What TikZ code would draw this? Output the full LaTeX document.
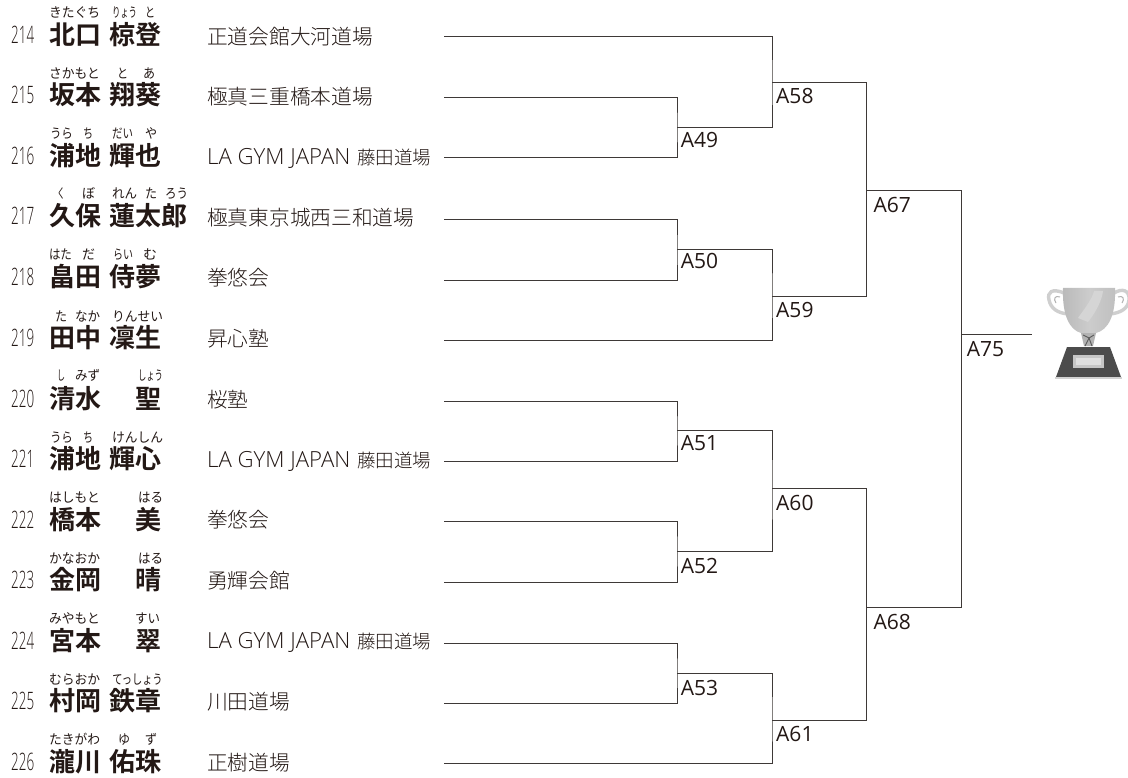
\documentclass[tikz,border=0pt]{standalone}
\usepackage{fontspec}
\newfontfamily\kanjif{Noto Sans CJK JP}[BoldFont={Noto Sans CJK JP Bold}]
\newfontfamily\clubf{Noto Sans CJK JP Light}
\newfontfamily\clublat{Open Sans Light}
\newfontfamily\numf{Open Sans Light}[FakeStretch=0.56]
\newfontfamily\labf{Open Sans}
\definecolor{ink}{HTML}{231815}
\definecolor{rule}{HTML}{3E3937}
\newcount\rbc
\newcommand{\rb}[5]{% x1,x2,ycentre,nchars,text
  \global\advance\rbc by 1
  \pgfmathsetmacro{\rbf}{(#2-#1)/(#4*13.5)}
  \node[rubytxt] (r\the\rbc) at ({(#1+#2)/2},#3+5) {\scalebox{\rbf}[1]{#5}};}
\newcommand{\entry}[7]{% num,y,sur,given,givenright,clubsy,club
  \node[numtxt] (n#1) at (11,#2+9) {#1};
  \node[kanji] (a#1) at (49,#2+10) {#3};
  \node[kanji,anchor=base east] (b#1) at (#5,#2+10) {#4};
  \node[clubtxt] (c#1) at (207,#6+7.6) {#7};}
\newcommand{\gym}{{\clublat\fontsize{22.2}{22.2}\selectfont LA GYM JAPAN\hspace{0.3em}}{\fontsize{18.5}{18.5}\selectfont 藤田道場}}
\begin{document}
\begin{tikzpicture}[x=1pt,y=-1pt,
  rubytxt/.style={inner sep=0,anchor=base,text=ink,font=\kanjif\fontsize{13.5}{13.5}\selectfont},
  numtxt/.style={inner sep=0,anchor=base west,text=ink,font=\numf\fontsize{24}{24}\selectfont},
  kanji/.style={inner sep=0,anchor=base west,text=ink,font=\kanjif\bfseries\fontsize{26}{26}\selectfont},
  clubtxt/.style={inner sep=0,anchor=base west,text=ink,font=\clubf\fontsize{20.7}{20.7}\selectfont},
  lab/.style={inner sep=0,anchor=base west,text=ink,font=\labf\fontsize{21}{21}\selectfont},
  br/.style={draw=rule,line width=1pt,line cap=rect}]
\useasboundingbox (0,0) rectangle (1128,778);
\fill[white] (0,0) rectangle (1128,778);
% entries
\entry{214}{35}{北口}{椋登}{162}{36.7}{正道会館大河道場}
\entry{215}{95}{坂本}{翔葵}{162}{97}{極真三重橋本道場}
\entry{216}{156}{浦地}{輝也}{162}{157}{\gym}
\entry{217}{216}{久保}{蓮太郎}{188}{218}{極真東京城西三和道場}
\entry{218}{277}{畠田}{侍夢}{162}{278}{拳悠会}
\entry{219}{337}{田中}{凜生}{162}{339}{昇心塾}
\entry{220}{398}{清水}{聖}{162}{400}{桜塾}
\entry{221}{458}{浦地}{輝心}{162}{460}{\gym}
\entry{222}{519}{橋本}{美}{162}{520}{拳悠会}
\entry{223}{579}{金岡}{晴}{162}{581}{勇輝会館}
\entry{224}{640}{宮本}{翠}{162}{641}{\gym}
\entry{225}{700}{村岡}{鉄章}{162}{702}{川田道場}
\entry{226}{761}{瀧川}{佑珠}{162}{763}{正樹道場}
% ruby
\rb{49}{100}{13}{4}{きたぐち}\rb{112}{137}{13}{3}{りょう}\rb{145}{155}{13}{1}{と}
\rb{49}{100}{74}{4}{さかもと}\rb{117}{128}{74}{1}{と}\rb{143}{155}{74}{1}{あ}
\rb{50}{73}{134}{2}{うら}\rb{83}{93}{134}{1}{ち}\rb{112}{133}{134}{2}{だい}\rb{145}{157}{134}{1}{や}
\rb{57}{65}{194}{1}{く}\rb{82}{95}{194}{1}{ぼ}\rb{112}{137}{194}{2}{れん}\rb{145}{157}{194}{1}{た}\rb{165}{188}{194}{2}{ろう}
\rb{49}{72}{255}{2}{はた}\rb{82}{95}{255}{1}{だ}\rb{113}{133}{255}{2}{らい}\rb{143}{157}{255}{1}{む}
\rb{55}{67}{317}{1}{た}\rb{75}{100}{317}{2}{なか}\rb{112}{163}{317}{4}{りんせい}
\rb{57}{65}{376}{1}{し}\rb{75}{100}{376}{2}{みず}\rb{138}{163}{376}{3}{しょう}
\rb{50}{73}{437}{2}{うら}\rb{83}{93}{437}{1}{ち}\rb{112}{163}{437}{4}{けんしん}
\rb{49}{100}{497}{4}{はしもと}\rb{138}{163}{497}{2}{はる}
\rb{49}{100}{558}{4}{かなおか}\rb{138}{163}{558}{2}{はる}
\rb{49}{100}{618}{4}{みやもと}\rb{135}{160}{618}{2}{すい}
\rb{49}{100}{679}{4}{むらおか}\rb{112}{163}{679}{5}{てっしょう}
\rb{49}{100}{739}{4}{たきがわ}\rb{118}{130}{739}{1}{ゆ}\rb{145}{157}{739}{1}{ず}
% bracket points
\foreach \n/\y in {214/36.7,215/97.7,216/158,217/220,218/280.7,219/340.7,220/401,221/461.3,222/521.7,223/582.3,224/643.3,225/703.7,226/763.7}
  \coordinate (s\n) at (444,\y);
\foreach \n/\x/\y in {49/677/127.7,50/677/250,51/677/430.3,52/677/551,53/677/673,
  58/772/83,59/772/296.2,60/772/488.5,61/772/720,
  67/866.7/190.7,68/866.7/607,75/961.3/334.3}
  \coordinate (m\n) at (\x,\y);
\coordinate (fin) at (1031.7,334.3);
% brackets
\path[br] (s215) -| (m49) |- (s216);
\path[br] (s217) -| (m50) |- (s218);
\path[br] (s220) -| (m51) |- (s221);
\path[br] (s222) -| (m52) |- (s223);
\path[br] (s224) -| (m53) |- (s225);
\path[br] (s214) -| (m58) |- (m49);
\path[br] (m50) -| (m59) |- (s219);
\path[br] (m51) -| (m60) |- (m52);
\path[br] (m53) -| (m61) |- (s226);
\path[br] (m58) -| (m67) |- (m59);
\path[br] (m60) -| (m68) |- (m61);
\path[br] (m67) -| (m75) |- (m68);
\path[br] (m75) -- (fin);
% match labels
\foreach \t/\x/\y in {A49/680.7/140.7,A50/680.7/261.7,A51/680.7/443,A52/680.7/565.7,A53/680.7/688,
  A58/776/96.7,A59/776/310.7,A60/776/502.7,A61/776/734,
  A67/873.3/205,A68/873.3/621.7,A75/966.7/349}
  \node[lab] (l\t) at (\x,\y+7.3) {\t};
% trophy: handles
\draw[line width=3.4pt,draw=gray!38,fill=none]
  (1064,293) .. controls (1052,288) and (1047,292) .. (1049,300)
  .. controls (1051,309) and (1058,313) .. (1068,314);
\draw[line width=1pt,draw=gray!60]
  (1060,297) .. controls (1055,295) and (1053,299) .. (1056,303);
\draw[line width=3.4pt,draw=gray!38,fill=none]
  (1114,293) .. controls (1122,288) and (1130,290) .. (1129,300)
  .. controls (1128,309) and (1120,313) .. (1110,314);
\draw[line width=1pt,draw=gray!60]
  (1118,297) .. controls (1123,295) and (1125,299) .. (1122,303);
% trophy: cup
\path[left color=gray!55,right color=gray!50,middle color=gray!40]
  (1063,288) -- (1115,288) .. controls (1116,316) and (1108,330) .. (1096,333)
  -- (1081,333) .. controls (1070,330) and (1062,316) .. (1063,288) -- cycle;
\fill[gray!33] (1094,291) .. controls (1092,300) and (1082,312) .. (1078,318)
  -- (1088,322) .. controls (1096,312) and (1102,300) .. (1103,291) -- cycle;
% trophy: stem
\fill[gray!60] (1081,333) -- (1096,333) -- (1093,346) -- (1084,346) -- cycle;
\draw[line width=0.9pt,draw=black!65] (1083,335) -- (1089,338) -- (1094,335);
\draw[line width=0.9pt,draw=black!65] (1089,338) -- (1085,346);
\draw[line width=0.9pt,draw=black!65] (1089,338) -- (1092,346);
% trophy: base
\fill[black!70] (1067,347) -- (1110,347) -- (1121,377) -- (1056,377) -- cycle;
\fill[gray!35] (1055,377) rectangle (1122,379);
\fill[gray!45] (1073,355) rectangle (1104,368);
\fill[gray!25] (1076,358) rectangle (1101,365);
\end{tikzpicture}
\end{document}
